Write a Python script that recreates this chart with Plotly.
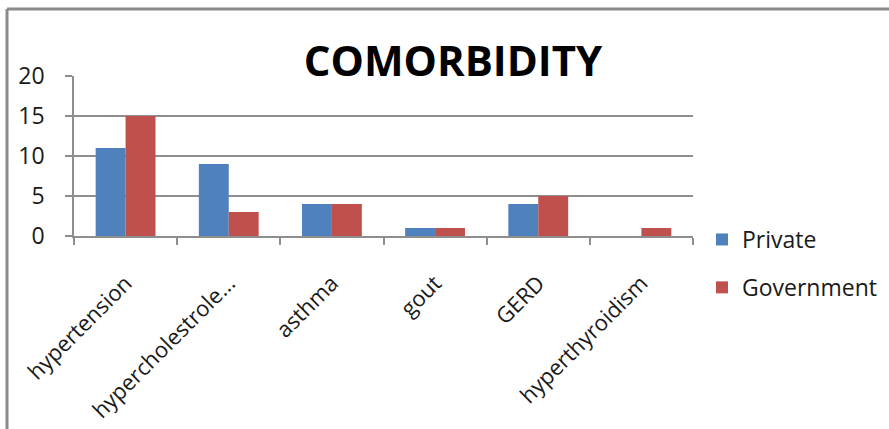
import plotly.graph_objects as go

categories = ["hypertension", "hypercholestrole...", "asthma", "gout", "GERD", "hyperthyroidism"]
private = [11, 9, 4, 1, 4, 0]
government = [15, 3, 4, 1, 5, 1]

W, H = 889, 429
L, R, T, B = 74, 196, 76, 193
FONT = "Open Sans"
GRID = "#8e8e8e"

fig = go.Figure()
fig.add_trace(go.Bar(name="Private", x=categories, y=private,
                     marker=dict(color="#4f81bd", line=dict(width=0)),
                     legendgroup="p"))
fig.add_trace(go.Bar(name="Government", x=categories, y=government,
                     marker=dict(color="#c0504d", line=dict(width=0)),
                     legendgroup="g"))

pw, ph = W - L - R, H - T - B

fig.update_layout(
    width=W, height=H,
    margin=dict(l=L, r=R, t=T, b=B, pad=0, autoexpand=False),
    paper_bgcolor="white", plot_bgcolor="white",
    barmode="group", bargap=0.42, bargroupgap=0,
    font=dict(family=FONT, color="#1a1a1a"),
    title=dict(text="<b>COMORBIDITY</b>", x=453 / W, xanchor="center",
               y=1 - 61 / H, yanchor="middle",
               font=dict(family=FONT, size=42, color="black")),
    legend=dict(xref="container", yref="container",
                x=702 / W, xanchor="left", y=1 - 218 / H, yanchor="top",
                font=dict(size=23, family=FONT), tracegroupgap=15,
                itemwidth=30, bgcolor="rgba(0,0,0,0)"),
    xaxis=dict(tickangle=-45, tickfont=dict(size=22), showline=True,
               linecolor=GRID, linewidth=1.5, ticks="outside", tickson="boundaries",
               ticklen=7, tickcolor=GRID, tickwidth=1.5, showgrid=False,
               ticklabelstandoff=24, automargin=False),
    yaxis=dict(range=[0, 20], dtick=5, tickfont=dict(size=23), showline=True,
               linecolor=GRID, linewidth=1.5, ticks="outside", ticklen=7,
               tickcolor=GRID, tickwidth=1.5, gridcolor=GRID, gridwidth=1.5,
               zeroline=False, ticklabelstandoff=16, automargin=False),
    # outer frame: top and left edges
    shapes=[
        dict(type="line", xref="paper", yref="paper",
             x0=(7 - L) / pw, x1=(W - L) / pw,
             y0=(H - B - 9) / ph, y1=(H - B - 9) / ph,
             line=dict(color="#8a8a8a", width=3)),
        dict(type="line", xref="paper", yref="paper",
             x0=(7 - L) / pw, x1=(7 - L) / pw,
             y0=(H - B - 9) / ph, y1=-B / ph,
             line=dict(color="#8a8a8a", width=3)),
    ],
)

fig.write_html("out.html")
